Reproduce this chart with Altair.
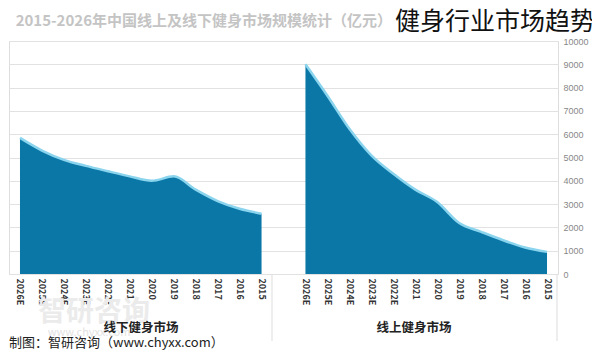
import altair as alt
import pandas as pd

years = ["2015", "2016", "2017", "2018", "2019", "2020", "2021",
         "2022E", "2023E", "2024E", "2025E", "2026E"]
offline = [2590, 2800, 3130, 3620, 4190, 4000, 4190, 4410, 4640, 4900, 5300, 5840]
online = [950, 1140, 1450, 1810, 2190, 3090, 3620, 4300, 5090, 6230, 7650, 9000]
panels = ["线下健身市场", "线上健身市场"]
y_ticks = [0, 1000, 2000, 3000, 4000, 5000, 6000, 7000, 8000, 9000, 10000]

rows = []
for p, vals in zip(["线下", "线上"], [offline, online]):
    for yr, v in zip(years, vals):
        rows.append({"panel": p, "key": f"{p}|{yr}", "year": yr, "value": v})
df = pd.DataFrame(rows)

domain = [f"线下|{y}" for y in reversed(years)] + ["gap"] + [f"线上|{y}" for y in reversed(years)]

W, H = 549, 233
FONT = "Noto Sans CJK SC"

xenc = alt.X("key:N", scale=alt.Scale(domain=domain, type="point", padding=0.5),
             sort=domain,
             axis=alt.Axis(title=None, labelExpr="datum.value == 'gap' ? '' : split(datum.value, '|')[1]",
                           labelAngle=90, labelAlign="left", labelBaseline="middle",
                           labelPadding=4, labelFontSize=9, labelFontWeight="bold",
                           labelColor="#333333", ticks=False, domain=False, grid=False,
                           labelOverlap=False))
yenc = alt.Y("value:Q", scale=alt.Scale(domain=[0, 10000], nice=False), stack=None,
             axis=alt.Axis(title=None, orient="right", values=y_ticks, format="d",
                           labelColor="#888888", labelFontSize=9, labelPadding=5,
                           ticks=False, domain=False, gridColor="#e2e2e2",
                           labelFont="Liberation Sans", labelOverlap=False))

base = alt.Chart(df)
area = base.mark_area(color="#0b77a6", interpolate="monotone", opacity=1).encode(
    x=xenc, y=yenc, detail="panel:N")
line = base.mark_line(color="#8ad4ee", strokeWidth=2.5, interpolate="monotone").encode(
    x=xenc, y=yenc, detail="panel:N")

one = pd.DataFrame({"a": [0]})

def txt(text, x, y, **kw):
    return alt.Chart(one).mark_text(text=text, font=FONT, **kw).encode(
        x=alt.value(x), y=alt.value(y))

def vrule(x):
    return alt.Chart(one).mark_rule(color="#dddddd", strokeWidth=1).encode(
        x=alt.value(x), y=alt.value(H), y2=alt.value(300))

layers = [
    txt("智研咨询", 85, 272, fontSize=28, color="#ebebeb", fontWeight="bold"),
    txt("www.chyxx.com", 80, 292, fontSize=11, color="#e2e2e2"),
    area, line,
    vrule(263), vrule(548),
    txt(panels[0], 132, 287, fontSize=12.5, fontWeight="bold", color="#222222"),
    txt(panels[1], 405, 287, fontSize=12.5, fontWeight="bold", color="#222222"),
    txt("2015-2026年中国线上及线下健身市场规模统计（亿元）", 383, -20, align="right",
        fontSize=15, fontWeight="bold", color="#c4c4c4"),
    txt("健身行业市场趋势", 386, -19, align="left", fontSize=25, color="#111111"),
    txt("制图：智研咨询（www.chyxx.com）", 0, 302, align="left", fontSize=13, color="#222222"),
]

chart = alt.layer(*layers).properties(
    width=W, height=H,
    autosize=alt.AutoSizeParams(type="none"),
    padding={"left": 1, "top": 33, "right": 34, "bottom": 78},
).configure_view(stroke=None).configure(font=FONT)

chart.save("out.html", embed_options={"renderer": "svg", "actions": False})
